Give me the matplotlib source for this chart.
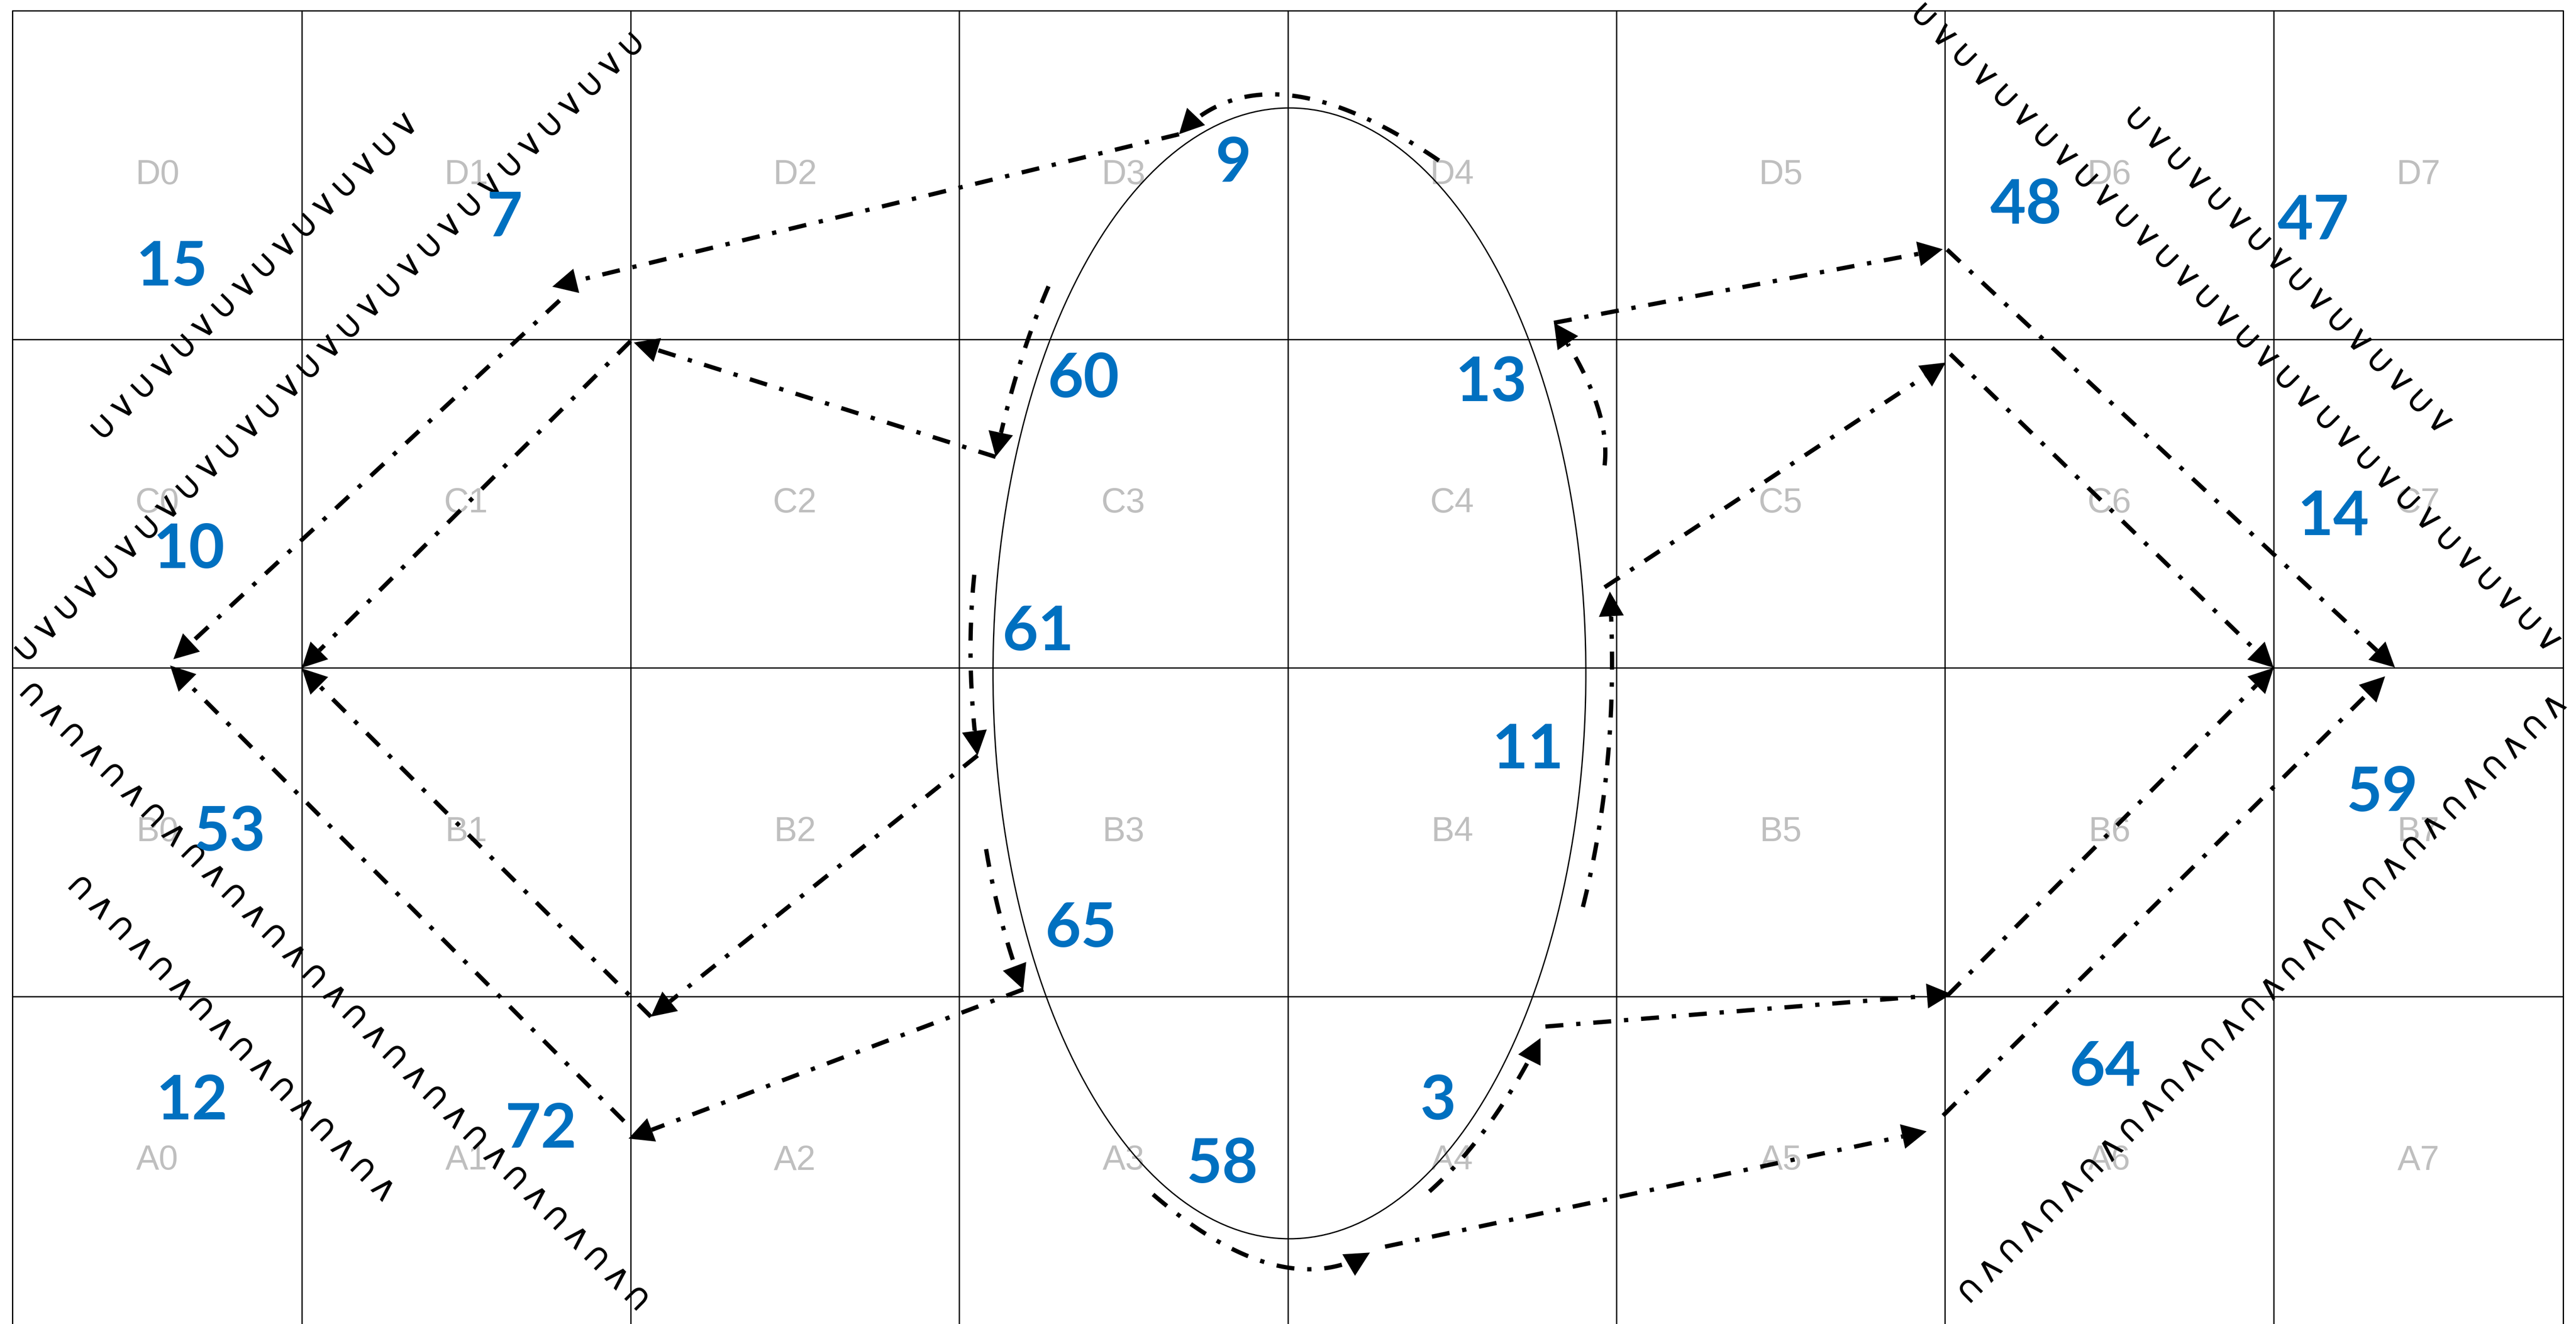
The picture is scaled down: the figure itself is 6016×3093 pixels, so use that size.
import numpy as np
import matplotlib
matplotlib.use("Agg")
import matplotlib.pyplot as plt
from matplotlib.patches import Ellipse, Polygon

# ---- data (cell units: 1 unit = one grid cell) ----
col_lines = [1, 2, 3, 4, 5, 6, 7]
row_lines = [1, 2, 3]
frame_left, frame_right, frame_top = 0.119, 7.881, 4.0

row_names = ["A", "B", "C", "D"]
row_y = [0.5, 1.5, 2.5, 3.5]
col_x = [0.56, 1.5, 2.5, 3.5, 4.5, 5.5, 6.5, 7.44]

numbers = ["15", "7", "9", "60", "13", "48", "47", "10", "14", "61",
           "11", "53", "59", "65", "3", "58", "12", "72", "64"]
num_x = [0.604, 1.616, 3.835, 3.379, 4.618, 6.246, 7.120, 0.656, 7.181, 3.241,
         4.731, 0.781, 7.331, 3.371, 4.457, 3.800, 0.666, 1.727, 6.487]
num_y = [3.217, 3.368, 3.534, 2.877, 2.866, 3.407, 3.359, 2.358, 2.458, 2.108,
         1.748, 1.498, 1.618, 1.205, 0.680, 0.486, 0.680, 0.593, 0.783]

ell_center = (4.005, 1.983)
ell_width, ell_height = 1.804, 3.442

# straight dash-dot arrows, head at the "to" end
arrow_from = [(3.669, 3.624), (1.784, 3.118), (1.980, 0.620), (3.195, 1.021),
              (3.111, 2.642), (2.000, 2.994), (2.062, 0.938), (3.056, 1.733),
              (4.810, 3.050), (6.006, 3.273), (5.994, 0.637), (4.296, 0.238),
              (4.964, 2.245), (6.016, 2.955), (6.008, 1.003), (4.784, 0.908)]
arrow_to = [(1.762, 3.160), (0.609, 2.026), (0.599, 2.007), (1.994, 0.567),
            (2.010, 2.990), (1.000, 2.000), (1.000, 1.998), (2.062, 0.938),
            (5.993, 3.274), (7.369, 2.001), (7.339, 1.974), (5.944, 0.589),
            (6.002, 2.929), (7.000, 2.000), (7.000, 2.000), (6.020, 1.007)]

# curved dash-dot arrows round the ellipse: start, middle, end (head at end)
arc_start = [(4.460, 3.544), (3.272, 3.161), (3.046, 2.283), (3.082, 1.448),
             (3.590, 0.397), (4.431, 0.406), (4.898, 1.272), (4.964, 2.616)]
arc_mid = [(4.000, 3.743), (3.182, 2.916), (3.035, 2.014), (3.129, 1.228),
           (3.950, 0.185), (4.608, 0.605), (4.975, 1.738), (4.936, 2.814)]
arc_end = [(3.669, 3.624), (3.111, 2.642), (3.056, 1.733), (3.195, 1.021),
           (4.250, 0.220), (4.769, 0.873), (4.980, 2.232), (4.810, 3.050)]

# wavy glyph lines: v = slope * u + intercept, from u0 to u1
wave_u0 = [0.392, 0.160, 5.930, 6.580, 0.160, 0.307, 6.050]
wave_u1 = [1.330, 2.046, 7.840, 7.555, 2.040, 1.281, 7.840]
wave_slope = [1, 1, -1, -1, -1, -1, 1]
wave_icpt = [2.349, 1.906, 9.906, 10.240, 2.094, 1.652, -5.950]
wave_rot = [45, 45, -45, -45, 135, 135, 225]

BLUE = "#0070C0"
GREY = "#BFBFBF"
DASH = (0, (4.2, 3, 1, 3))
LW = 7.2
HEAD_L, HEAD_W = 0.075, 0.038


def draw_head(ax, tip, d):
    d = np.asarray(d, float)
    d = d / np.hypot(*d)
    n = np.array([-d[1], d[0]])
    tip = np.asarray(tip, float)
    base = tip - d * HEAD_L
    ax.add_patch(Polygon([tip, base + n * HEAD_W, base - n * HEAD_W],
                         closed=True, fc="black", ec="none", zorder=6))
    return base


def dashdot(ax, xs, ys):
    ax.plot(xs, ys, color="black", lw=LW, linestyle=DASH,
            dash_capstyle="butt", solid_capstyle="butt", zorder=5)


fig = plt.figure(figsize=(60.16, 30.93), dpi=100)
ax = fig.add_axes([0, 0, 1, 1])
ax.set_xlim(0.0814, 7.9199)
ax.set_ylim(0.0026, 4.0326)
ax.axis("off")

# grid
for x in col_lines:
    ax.plot([x, x], [0, frame_top], color="black", lw=2.2, zorder=1)
for y in row_lines:
    ax.plot([frame_left, frame_right], [y, y], color="black", lw=2.2, zorder=1)
ax.plot([frame_left, frame_left, frame_right, frame_right],
        [0, frame_top, frame_top, 0], color="black", lw=2.2, zorder=1)

# cell labels
for r, y in zip(row_names, row_y):
    for c, x in enumerate(col_x):
        ax.text(x, y, f"{r}{c}", color=GREY, fontsize=58, ha="center",
                va="center", family="Liberation Sans", zorder=2)

# ellipse
ax.add_patch(Ellipse(ell_center, ell_width, ell_height, fill=False,
                     ec="black", lw=2.2, zorder=3))

# straight arrows
for p0, p1 in zip(arrow_from, arrow_to):
    p0 = np.array(p0)
    p1 = np.array(p1)
    base = draw_head(ax, p1, p1 - p0)
    dashdot(ax, [p0[0], base[0]], [p0[1], base[1]])

# curved arrows (quadratic bezier through the middle point)
t = np.linspace(0, 1, 120)[:, None]
for s, m, e in zip(arc_start, arc_mid, arc_end):
    s, m, e = np.array(s), np.array(m), np.array(e)
    c = 2 * m - 0.5 * (s + e)
    pts = (1 - t) ** 2 * s + 2 * (1 - t) * t * c + t ** 2 * e
    base = draw_head(ax, e, e - c)
    keep = np.hypot(*(pts - e).T) > HEAD_L
    pts = np.vstack([pts[keep], base])
    dashdot(ax, pts[:, 0], pts[:, 1])

# wavy glyph lines
pitch = 0.0613
for u0, u1, sl, b, rot in zip(wave_u0, wave_u1, wave_slope, wave_icpt, wave_rot):
    us = np.arange(u0, u1 + 1e-6, pitch)
    for i, u in enumerate(us):
        g = "\u222A" if i % 2 == 0 else "\u2228"
        ax.text(u, sl * u + b, g, fontsize=60,
                family="DejaVu Sans", rotation=rot, rotation_mode="anchor",
                ha="center", va="center", color="black", zorder=4)

# numbers
for s, x, y in zip(numbers, num_x, num_y):
    ax.text(x, y, s, color=BLUE, fontsize=104, fontweight="bold",
            family="Lato", ha="center", va="center", zorder=7)

fig.savefig("out.png", dpi=100)
